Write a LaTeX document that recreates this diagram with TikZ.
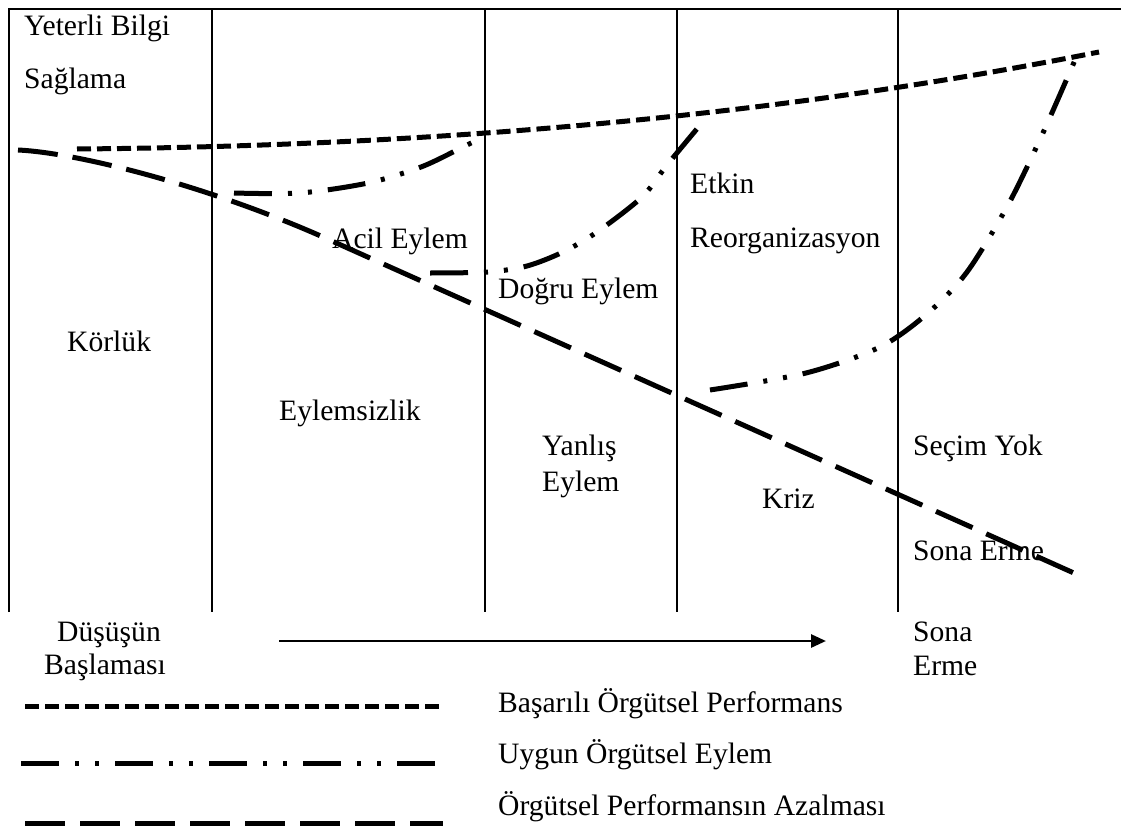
\documentclass[tikz,border=0pt]{standalone}
\usepackage{fontspec}
\setmainfont{Liberation Serif}
\usetikzlibrary{arrows.meta}
\begin{document}
\begin{tikzpicture}[x=1pt,y=-1pt,
  frame/.style={line width=1.5pt},
  perf/.style={line width=5pt, dash pattern=on 14pt off 6pt},
  act/.style={line width=5pt, dash pattern=on 38pt off 16pt on 4pt off 16pt on 4pt off 16pt},
  decl/.style={line width=5pt, dash pattern=on 40pt off 15pt},
  lbl/.style={anchor=base west, inner sep=0pt, font=\fontsize{29.6}{35}\selectfont},
  timeline/.style={line width=2.8pt, -{Triangle[length=15pt,width=13pt]}}
]
\useasboundingbox (0,0) rectangle (1121,832);
\fill[white] (0,0) rectangle (1121,832);

% frame
\coordinate (tl) at (9,9);
\coordinate (tr) at (1121,9);
\coordinate (bl) at (9,612);
\draw[frame] (bl) -- (tl) -- (tr);
\foreach \x [count=\i] in {212,485,677,898}{
  \coordinate (vt\i) at (\x,9);
  \coordinate (vb\i) at (\x,612);
  \draw[frame] (vt\i) -- (vb\i);
}

% successful performance
\coordinate (p0) at (77,149);
\coordinate (p1) at (1099,52);
\draw[perf] (p0) .. controls (452,146) and (794,113) .. (p1);

% declining performance
\coordinate (d0) at (18,150);
\coordinate (d1) at (323,237);
\coordinate (d2) at (1085,578);
\draw[decl] (d0) .. controls (80,153) and (210,187) .. (d1) -- (d2);

% appropriate action curves
\draw[act] plot[smooth] coordinates {(234,193) (300,193) (368,183) (421,167) (461,148) (483,137)};
\draw[act] plot[smooth] coordinates {(430,273) (488,272) (527,266) (563,252) (597,232) (642,197) (667,165) (706,118)};
\draw[act] plot[smooth] coordinates {(710,390) (806,373) (880,347) (928,313) (967,272) (1008,205) (1042,135) (1075,60)};

% labels
\node[lbl] (yb) at (24,36) {Yeterli Bilgi};
\node[lbl] (sg) at (24,89) {Sağlama};
\node[lbl] (kr) at (67,351) {Körlük};
\node[lbl] (ey) at (279,420) {Eylemsizlik};
\node[lbl] (ac) at (332,248) {Acil Eylem};
\node[lbl] (de) at (498,298) {Doğru Eylem};
\node[lbl] (et) at (690,193) {Etkin};
\node[lbl] (ro) at (690,247) {Reorganizasyon};
\node[lbl] (ya) at (542,455) {Yanlış};
\node[lbl] (ye) at (542,491) {Eylem};
\node[lbl] (kz) at (762,508) {Kriz};
\node[lbl] (sy) at (913,455) {Seçim Yok};
\node[lbl] (se) at (913,560) {Sona Erme};

% timeline
\node[lbl] (ds) at (57,641) {Düşüşün};
\node[lbl] (bs) at (44,674) {Başlaması};
\node[lbl] (sn) at (913,641) {Sona};
\node[lbl] (er) at (913,675) {Erme};
\coordinate (a0) at (279,641);
\coordinate (a1) at (826,641);
\draw[timeline] (a0) -- (a1);

% legend
\coordinate (l1a) at (25,706);
\coordinate (l1b) at (443,706);
\coordinate (l2a) at (21,763);
\coordinate (l2b) at (441,763);
\coordinate (l3a) at (25,823);
\coordinate (l3b) at (443,823);
\draw[perf] (l1a) -- (l1b);
\draw[act] (l2a) -- (l2b);
\draw[decl] (l3a) -- (l3b);
\node[lbl] (t1) at (498,712) {Başarılı Örgütsel Performans};
\node[lbl] (t2) at (498,763) {Uygun Örgütsel Eylem};
\node[lbl] (t3) at (498,815) {Örgütsel Performansın Azalması};
\end{tikzpicture}
\end{document}
